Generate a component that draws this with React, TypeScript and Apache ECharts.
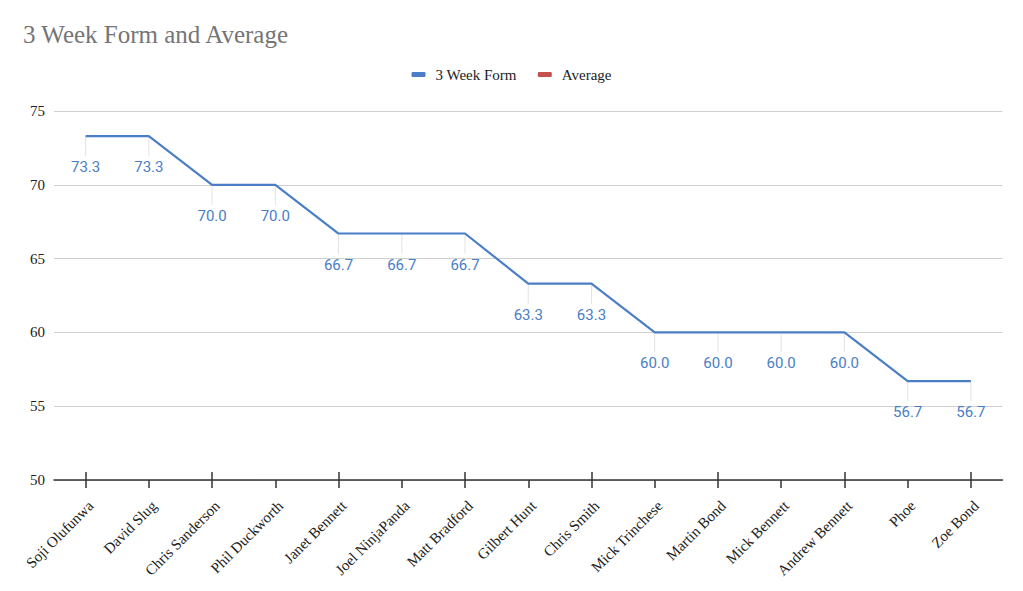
import React, { useEffect, useRef } from "react";
import * as echarts from "echarts";

const categories = [
  "Soji Olufunwa", "David Slug", "Chris Sanderson", "Phil Duckworth", "Janet Bennett",
  "Joel NinjaPanda", "Matt Bradford", "Gilbert Hunt", "Chris Smith", "Mick Trinchese",
  "Martin Bond", "Mick Bennett", "Andrew Bennett", "Phoe", "Zoe Bond",
];
const formValues = [73.3, 73.3, 70.0, 70.0, 66.7, 66.7, 66.7, 63.3, 63.3, 60.0, 60.0, 60.0, 60.0, 56.7, 56.7];
const averageValues: number[] = [];
const yTicks = { min: 50, max: 75, interval: 5 };

const BLUE = "#4a7ec6";
const RED = "#c6504d";
const SERIF = "'Liberation Serif', 'Times New Roman', serif";

export default function App() {
  const ref = useRef<HTMLDivElement>(null);
  useEffect(() => {
    if (!ref.current) return;
    const chart = echarts.init(ref.current, undefined, { renderer: "svg" });
    chart.setOption({
      animation: false,
      backgroundColor: "#ffffff",
      title: {
        text: "3 Week Form and Average",
        left: 18,
        top: 17,
        textStyle: { fontFamily: SERIF, fontSize: 25, fontWeight: "normal", color: "#757575" },
      },
      legend: {
        top: 62,
        left: "center",
        itemWidth: 14,
        itemHeight: 5,
        itemGap: 21,
        icon: "roundRect",
        textStyle: { fontFamily: SERIF, fontSize: 15, color: "#222", padding: [0, 0, 0, 5] },
        data: [
          { name: "3 Week Form", itemStyle: { color: BLUE } },
          { name: "Average", itemStyle: { color: RED } },
        ],
      },
      grid: { left: 54, right: 20.5, top: 111, bottom: 111, containLabel: false },
      xAxis: [
        {
          type: "category",
          data: categories,
          boundaryGap: true,
          axisLine: { show: true, lineStyle: { color: "#333", width: 1.5 } },
          axisTick: { show: true, alignWithLabel: true, length: 8, lineStyle: { color: "#333", width: 1.5 } },
          axisLabel: {
            rotate: 45,
            margin: 18,
            verticalAlign: "top",
            fontFamily: SERIF,
            fontSize: 15,
            color: "#222",
            interval: 0,
          },
        },
        {
          type: "category",
          data: categories,
          position: "bottom",
          boundaryGap: true,
          axisLine: { show: false },
          axisTick: { show: true, alignWithLabel: true, inside: true, length: 8, lineStyle: { color: "#333", width: 1.5 } },
          axisLabel: { show: false },
        },
      ],
      yAxis: {
        type: "value",
        min: yTicks.min,
        max: yTicks.max,
        interval: yTicks.interval,
        axisLine: { show: false },
        axisTick: { show: false },
        axisLabel: { fontFamily: SERIF, fontSize: 15, color: "#222", margin: 9 },
        splitLine: { lineStyle: { color: "#d0d0d0", width: 1 } },
      },
      series: [
        {
          type: "custom",
          name: "leaders",
          silent: true,
          z: 1,
          data: formValues.map((v, i) => [i, v]),
          renderItem: (params: any, api: any) => {
            const p = api.coord([api.value(0), api.value(1)]);
            return {
              type: "group",
              children: [
                {
                  type: "line",
                  shape: { x1: p[0], y1: p[1], x2: p[0], y2: p[1] + 20 },
                  style: { stroke: "#e3e3e3", lineWidth: 1 },
                },
                {
                  type: "text",
                  x: p[0],
                  y: p[1] + 31,
                  style: {
                    text: Number(api.value(1)).toFixed(1),
                    fill: BLUE,
                    fontFamily: "Roboto, 'Noto Sans', sans-serif",
                    fontSize: 15,
                    align: "center",
                    verticalAlign: "middle",
                  },
                },
              ],
            };
          },
        },
        {
          type: "line",
          name: "3 Week Form",
          data: formValues,
          z: 3,
          color: BLUE,
          symbol: "none",
          lineStyle: { color: BLUE, width: 2.2 },
        },
        {
          type: "line",
          name: "Average",
          data: averageValues,
          color: RED,
          lineStyle: { color: RED, width: 2 },
          showSymbol: false,
        },
      ],
    });
    return () => chart.dispose();
  }, []);
  return (
    <div
      ref={ref}
      style={{ position: "fixed", left: 0, top: 0, width: 1023, height: 591 }}
    />
  );
}
